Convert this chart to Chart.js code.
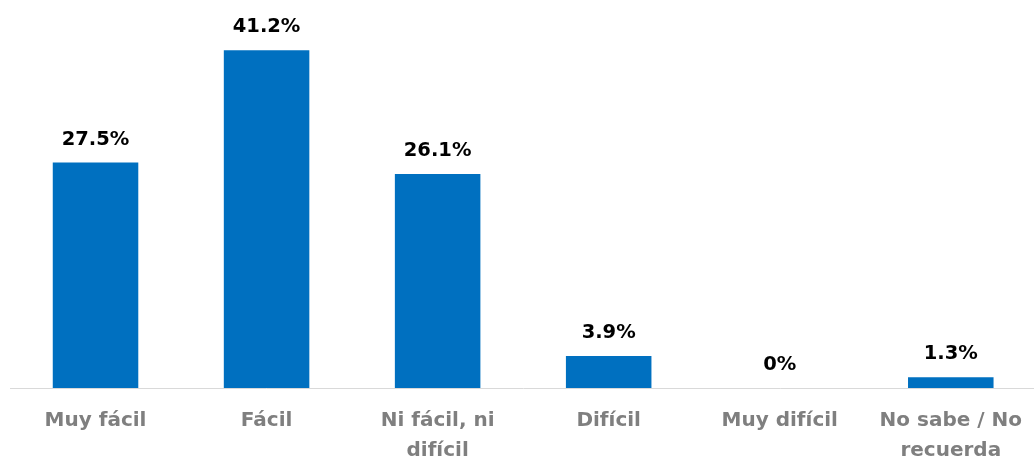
<!DOCTYPE html>
<html>
<head>
<meta charset="utf-8">
<script src="https://cdn.jsdelivr.net/npm/chart.js@4"></script>
<style>
    html, body { margin: 0; padding: 0; background: #fff; overflow: hidden; }
    #wrap { width: 1040px; height: 457px; }
</style>
</head>
<body>
<div id="wrap"><canvas id="chartEase"></canvas></div>
<script>
const categories = [
    "Muy fácil",
    "Fácil",
    ["Ni fácil, ni", "difícil"],
    "Difícil",
    "Muy difícil",
    ["No sabe / No", "recuerda"]
];
const percentages = [27.5, 41.2, 26.1, 3.9, 0, 1.3];
const valueLabels = ["27.5%", "41.2%", "26.1%", "3.9%", "0%", "1.3%"];

const barLabels = {
    id: 'barLabels',
    afterDatasetsDraw(chart) {
        const ctx = chart.ctx;
        const meta = chart.getDatasetMeta(0);
        ctx.save();
        ctx.font = 'bold 19.5px "DejaVu Sans"';
        ctx.fillStyle = '#000000';
        ctx.textAlign = 'center';
        ctx.textBaseline = 'alphabetic';
        meta.data.forEach((bar, i) => {
            ctx.fillText(valueLabels[i], bar.x, bar.y - 18);
        });
        ctx.restore();
    }
};

showEase();

function showEase() {
    const ctx = document.getElementById('chartEase').getContext('2d');
    new Chart(ctx, {
        type: 'bar',
        data: {
            labels: categories,
            datasets: [
                {
                    data: percentages,
                    backgroundColor: "#0070C0",
                    categoryPercentage: 1,
                    barPercentage: 0.5,
                },
            ]
        },
        options: {
            responsive: true,
            maintainAspectRatio: false,
            animation: false,
            layout: {
                padding: { top: 19, left: 10, right: 0, bottom: 0 }
            },
            scales: {
                x: {
                    grid: {
                        display: false,
                        drawTicks: false
                    },
                    border: {
                        display: true,
                        color: "#D9D9D9",
                        width: 1
                    },
                    ticks: {
                        color: "#7F7F7F",
                        padding: 18,
                        maxRotation: 0,
                        autoSkip: false,
                        font: {
                            family: "DejaVu Sans",
                            weight: "bold",
                            size: 20,
                            lineHeight: 1.5
                        }
                    },
                    afterFit(axis) {
                        axis.height = 69;
                    }
                },
                y: {
                    display: false,
                    min: 0,
                    max: 45
                }
            },
            plugins: {
                legend: {
                    display: false
                },
                title: {
                    display: false
                },
                tooltip: {
                    enabled: false
                }
            }
        },
        plugins: [barLabels]
    });
}
</script>
</body>
</html>
